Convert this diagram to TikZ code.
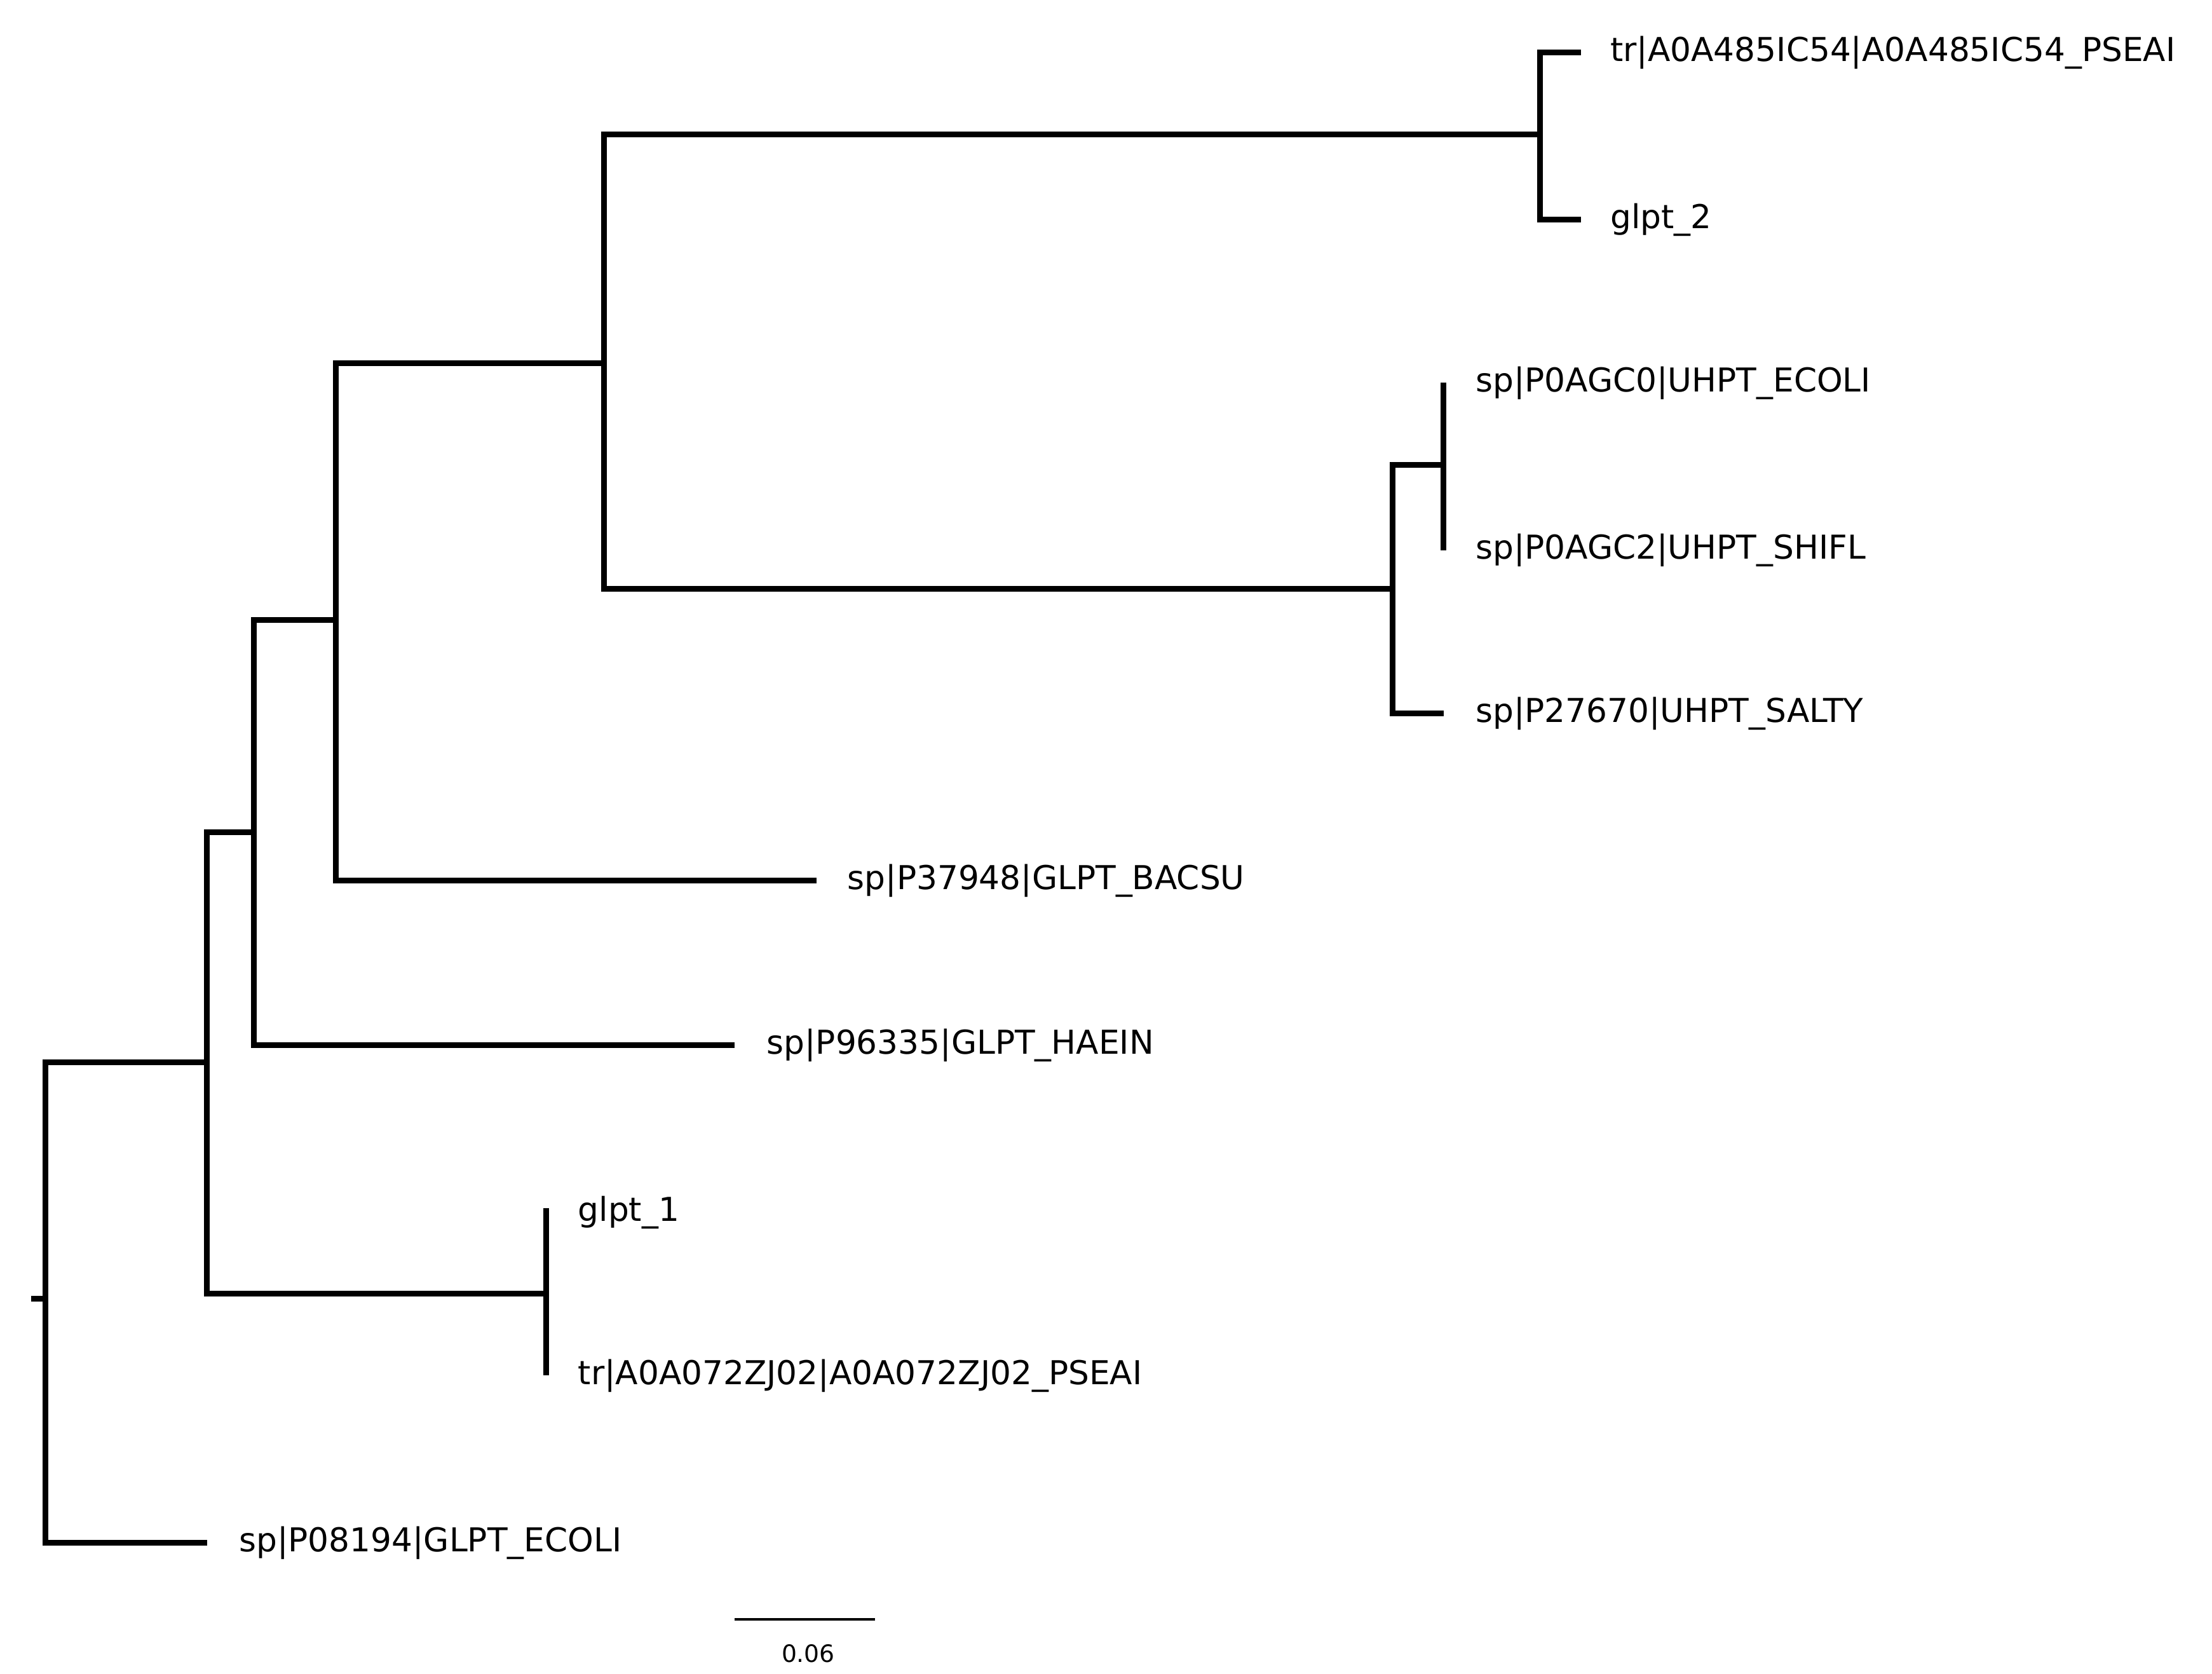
\documentclass[tikz,border=0pt]{standalone}
\usepackage{fontspec}
\setmainfont{DejaVu Sans}
\begin{document}
\begin{tikzpicture}[x=0.1mm,y=-0.1mm,
  branch/.style={line width=1.15pt},
  leaf/.style={anchor=west, inner sep=0pt, font=\fontsize{6.6}{8}\selectfont}]
\useasboundingbox (0,0) rectangle (1560,1180);
%% internal nodes
\coordinate (root) at (32,916);
\coordinate (n_a) at (146,749);
\coordinate (n_b) at (179,587);
\coordinate (n_c) at (237,437);
\coordinate (n_d) at (426,256);
\coordinate (n_e) at (1086,95);
\coordinate (n_f) at (982,415);
\coordinate (n_g) at (1018,328);
\coordinate (n_h) at (385,912);

%% leaf tips
\coordinate (t_pseai1) at (1115,37);
\coordinate (t_glpt2) at (1115,155);
\coordinate (t_ecoli_u) at (1018,270);
\coordinate (t_shifl) at (1018,388);
\coordinate (t_salty) at (1018,503);
\coordinate (t_bacsu) at (576,621);
\coordinate (t_haein) at (518,737);
\coordinate (t_glpt1) at (385,852);
\coordinate (t_pseai2) at (385,970);
\coordinate (t_ecoli_g) at (146,1088);

%% labels
\node[leaf] (l_pseai1) at (1135,37) {tr|A0A485IC54|A0A485IC54\_PSEAI};
\node[leaf] (l_glpt2) at (1135,155) {glpt\_2};
\node[leaf] (l_ecoli_u) at (1040,270) {sp|P0AGC0|UHPT\_ECOLI};
\node[leaf] (l_shifl) at (1040,388) {sp|P0AGC2|UHPT\_SHIFL};
\node[leaf] (l_salty) at (1040,503) {sp|P27670|UHPT\_SALTY};
\node[leaf] (l_bacsu) at (597,621) {sp|P37948|GLPT\_BACSU};
\node[leaf] (l_haein) at (540,737) {sp|P96335|GLPT\_HAEIN};
\node[leaf] (l_glpt1) at (407,855) {glpt\_1};
\node[leaf] (l_pseai2) at (407,970) {tr|A0A072ZJ02|A0A072ZJ02\_PSEAI};
\node[leaf] (l_ecoli_g) at (168,1088) {sp|P08194|GLPT\_ECOLI};

%% branches
\draw[branch] (22,916) -- (root);
\draw[branch] (n_a) -| (root) |- (t_ecoli_g);
\draw[branch] (n_b) -| (n_a) |- (n_h);
\draw[branch] (t_glpt1) -- (t_pseai2);
\draw[branch] (n_c) -| (n_b) |- (t_haein);
\draw[branch] (n_d) -| (n_c) |- (t_bacsu);
\draw[branch] (n_e) -| (n_d) |- (n_f);
\draw[branch] (t_pseai1) -| (n_e) |- (t_glpt2);
\draw[branch] (n_g) -| (n_f) |- (t_salty);
\draw[branch] (t_ecoli_u) -- (t_shifl);

%% scale bar
\coordinate (bar_l) at (518,1142);
\coordinate (bar_r) at (617,1142);
\draw[line width=0.5pt] (bar_l) -- (bar_r);
\node[font=\fontsize{4.8}{6}\selectfont] (bar_lab) at (570,1166) {0.06};
\end{tikzpicture}
\end{document}
